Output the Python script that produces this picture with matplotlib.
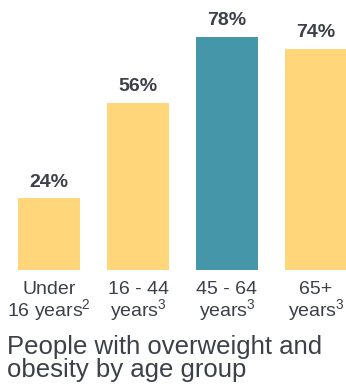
import numpy as np
import matplotlib
matplotlib.use("Agg")
import matplotlib.pyplot as plt

plt.rcParams['font.family'] = ['Liberation Sans', 'DejaVu Sans']
plt.rcParams['mathtext.fontset'] = 'custom'
plt.rcParams['mathtext.rm'] = 'Liberation Sans'

# data
groups = ["Under\n16 years$^2$", "16 - 44\nyears$^3$", "45 - 64\nyears$^3$", "65+\nyears$^3$"]
values = [24, 56, 78, 74]
colors = ["#FFD77A", "#FFD77A", "#4596A8", "#FFD77A"]
title = "People with overweight and\nobesity by age group"

textColor = "#3b4049"

fig = plt.figure(figsize=(3.46, 3.85), dpi=100)
ax = fig.add_axes([0, 115/385, 1, 270/385])

x = np.arange(len(values))
ax.bar(x, values, width=0.697, color=colors)
for i in range(len(values)):
    ax.text(x[i], values[i] + 2.5, str(values[i]) + "%", ha="center", va="bottom",
            fontsize=14, fontweight="bold", color=textColor)

ax.set_xlim(-49/89, 297/89)
ax.set_ylim(0, 90.3)
ax.set_xticks(x)
ax.set_xticklabels(groups, fontsize=14, color=textColor, linespacing=0.95)
ax.tick_params(axis="x", length=0, pad=8)
ax.set_yticks([])
for s in ax.spines.values():
    s.set_visible(False)

fig.text(0.02, 0.008, title, ha="left", va="bottom", fontsize=18.5,
         color=textColor, linespacing=0.95)

fig.savefig("out.png", dpi=100)
